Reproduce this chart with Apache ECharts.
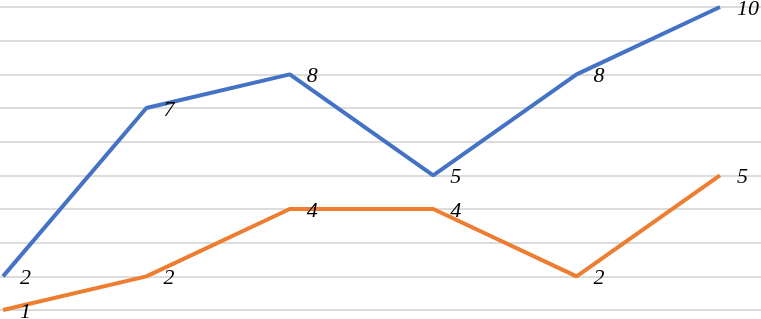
<!DOCTYPE html>
<html>
<head>
<meta charset="utf-8">
<script src="https://cdn.jsdelivr.net/npm/echarts@6/dist/echarts.min.js"></script>
<style>
html,body{margin:0;padding:0;background:#fff;}
#chart{width:761px;height:319px;}
</style>
</head>
<body>
<div id="chart"></div>
<script>
var categories = [0, 1, 2, 3, 4, 5];
var seriesBlue = [2, 7, 8, 5, 8, 10];
var seriesOrange = [1, 2, 4, 4, 2, 5];
var yTicks = [1, 2, 3, 4, 5, 6, 7, 8, 9, 10];

function pairs(vals) {
  return vals.map(function (v, i) { return [categories[i], v]; });
}

var labelStyle = {
  show: true,
  position: 'right',
  distance: 16,
  offset: [0, 2],
  color: '#000',
  opacity: 1,
  fontFamily: 'Times New Roman, Liberation Serif, serif',
  fontStyle: 'italic',
  fontSize: 22,
  formatter: function (p) { return String(p.value[1]); }
};

var chart = echarts.init(document.getElementById('chart'), null, {renderer: 'canvas'});
chart.setOption({
  animation: false,
  backgroundColor: '#fff',
  grid: {left: 0, right: 0, top: 7, bottom: 9, containLabel: false},
  xAxis: {
    type: 'value',
    min: -0.021,
    max: 5.286,
    show: false,
    splitLine: {show: false}
  },
  yAxis: {
    type: 'value',
    min: yTicks[0],
    max: yTicks[yTicks.length - 1],
    interval: 1,
    axisLine: {show: false},
    axisTick: {show: false},
    axisLabel: {show: false},
    splitLine: {show: true, lineStyle: {color: '#dcdcdc', width: 2}}
  },
  series: [
    {
      type: 'line',
      data: pairs(seriesOrange),
      symbol: 'circle',
      symbolSize: 2,
      showSymbol: true,
      showAllSymbol: true,
      lineStyle: {color: '#ED7D31', width: 4},
      itemStyle: {color: 'rgba(0,0,0,0)', borderWidth: 0},
      label: labelStyle,
      clip: false
    },
    {
      type: 'line',
      data: pairs(seriesBlue),
      symbol: 'circle',
      symbolSize: 2,
      showSymbol: true,
      showAllSymbol: true,
      lineStyle: {color: '#4472C4', width: 4},
      itemStyle: {color: 'rgba(0,0,0,0)', borderWidth: 0},
      label: labelStyle,
      clip: false
    }
  ]
});
</script>
</body>
</html>
